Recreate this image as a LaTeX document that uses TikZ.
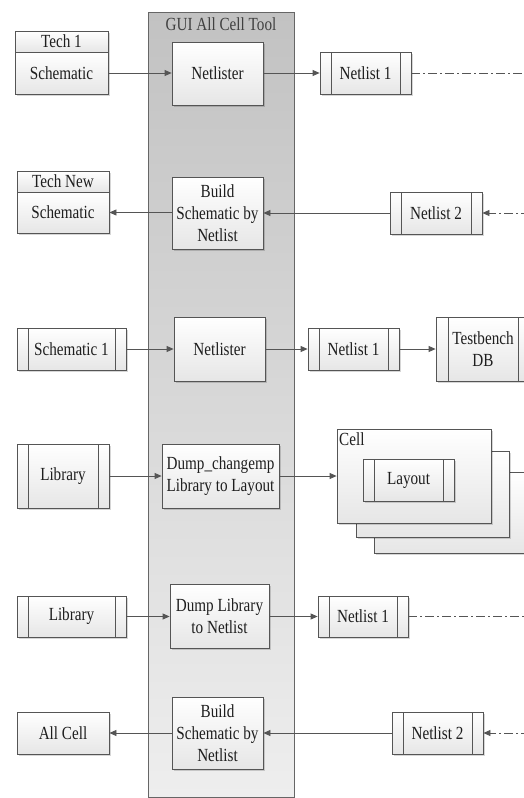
\documentclass[tikz,border=0pt]{standalone}
\usepackage{fontspec}
\setmainfont{Liberation Serif}[FakeStretch=0.82]
\usetikzlibrary{arrows.meta,shadows}
\definecolor{linec}{HTML}{555555}
\definecolor{txt}{HTML}{1E1E1E}
\definecolor{boxbot}{HTML}{E6E6E6}
\definecolor{paneltop}{HTML}{C2C2C2}
\definecolor{panelbot}{HTML}{EEEEEE}
\newcommand\dfont{\fontsize{18.5}{21.8}\selectfont}
\tikzset{
  base/.style={draw=linec, line width=0.8pt, top color=white, bottom color=boxbot,
    inner sep=1pt, align=center, font=\dfont, text=txt,
    drop shadow={shadow xshift=1.6pt, shadow yshift=-1.6pt, fill=black, opacity=0.16}},
  sz/.style 2 args={minimum width=#1pt, minimum height=#2pt},
  proc/.style={base, path picture={
    \draw[linec, line width=0.8pt]
      ([xshift=#1pt]path picture bounding box.north west) -- ([xshift=#1pt]path picture bounding box.south west)
      ([xshift=-#1pt]path picture bounding box.north east) -- ([xshift=-#1pt]path picture bounding box.south east);}},
  proc/.default=11,
  panel/.style={draw=linec!90, line width=0.8pt, top color=paneltop, bottom color=panelbot},
  flow/.style={draw=linec, line width=0.8pt, -{Triangle[length=7pt,width=6pt]}},
  dashdot/.style={draw=linec, line width=0.8pt, dash pattern=on 9pt off 3pt on 2pt off 3pt},
  dashflow/.style={dashdot, -{Triangle[length=7pt,width=6pt]}},
}
\begin{document}
\begin{tikzpicture}[x=1pt,y=-1pt]
\useasboundingbox (0,0) rectangle (524,798);

% tool panel
\node[panel, sz={146}{785}] (gui) at (221,404.5) {};
\node[font=\dfont, text=txt!85] (guititle) at (221,24) {GUI All Cell Tool};

% row 1
\node[base, sz={93}{21}, inner sep=0pt] (tech1h) at (61.5,41.5) {Tech 1};
\node[base, sz={93}{42}] (tech1b) at (61.5,73) {Schematic};
\node[base, sz={91}{63}] (ntr1) at (217.5,73.5) {Netlister};
\node[proc, sz={91}{42}] (nl1a) at (365.5,73) {Netlist 1};
\coordinate (e1) at (530,73);

% row 2
\node[base, sz={92}{21}, inner sep=0pt] (technewh) at (63,181.5) {Tech New};
\node[base, sz={92}{41}] (technewb) at (63,212.5) {Schematic};
\node[base, sz={91}{72}] (bsn1) at (217.5,213) {Build\\Schematic by\\Netlist};
\node[proc, sz={92}{42}] (nl2a) at (436,213) {Netlist 2};
\coordinate (e2) at (530,213);

% row 3
\node[proc, sz={109}{42}] (sch1) at (71.5,349) {Schematic 1};
\node[base, sz={91}{64}] (ntr2) at (219.5,349) {Netlister};
\node[proc, sz={91}{42}] (nl1b) at (353.5,349) {Netlist 1};
\node[proc=12, sz={94}{64}] (tbdb) at (483,349) {Testbench\\DB};

% row 4
\node[proc, sz={92}{64}] (lib1) at (63,476) {Library};
\node[base, sz={117}{64}, align=left] (dump1) at (220.5,476) {Dump\_changemp\\Library to Layout};
\node[base, sz={171}{81}] (cell3) at (459.5,512.5) {};
\node[base, sz={153}{86}] (cell2) at (432.5,494) {};
\node[base, sz={154}{94}] (cell1) at (414,476) {};
\node[font=\dfont, text=txt, anchor=north west, inner sep=0pt] (celllabel) at (339,432) {Cell};
\node[proc, sz={91}{42}] (layout) at (408.5,480) {Layout};

% row 5
\node[proc, sz={109}{41}] (lib2) at (71.5,616.5) {Library};
\node[base, sz={99}{64}] (dump2) at (219.5,616) {Dump Library\\to Netlist};
\node[proc, sz={90}{41}] (nl1c) at (363,616.5) {Netlist 1};
\coordinate (e5) at (530,616.5);

% row 6
\node[base, sz={92}{42}] (allcell) at (63,733) {All Cell};
\node[base, sz={91}{72}] (bsn2) at (217.5,733) {Build\\Schematic by\\Netlist};
\node[proc, sz={91}{42}] (nl2b) at (437.5,733) {Netlist 2};
\coordinate (e6) at (530,733);

% connectors
\draw[flow] (tech1b.east) -- (tech1b.east -| ntr1.west);
\draw[flow] (nl1a.west -| ntr1.east) -- (nl1a.west);
\draw[dashdot] (nl1a.east) -- (e1);

\draw[dashflow] (e2) -- (nl2a.east);
\draw[flow] (nl2a.west) -- (nl2a.west -| bsn1.east);
\draw[flow] (technewb.east -| bsn1.west) -- (technewb.east);

\draw[flow] (sch1.east) -- (ntr2.west);
\draw[flow] (ntr2.east) -- (nl1b.west);
\draw[flow] (nl1b.east) -- (tbdb.west);

\draw[flow] (lib1.east) -- (dump1.west);
\draw[flow] (dump1.east) -- (cell1.west);

\draw[flow] (lib2.east) -- (lib2.east -| dump2.west);
\draw[flow] (nl1c.west -| dump2.east) -- (nl1c.west);
\draw[dashdot] (nl1c.east) -- (e5);

\draw[dashflow] (e6) -- (nl2b.east);
\draw[flow] (nl2b.west) -- (bsn2.east);
\draw[flow] (bsn2.west) -- (allcell.east);
\end{tikzpicture}
\end{document}
